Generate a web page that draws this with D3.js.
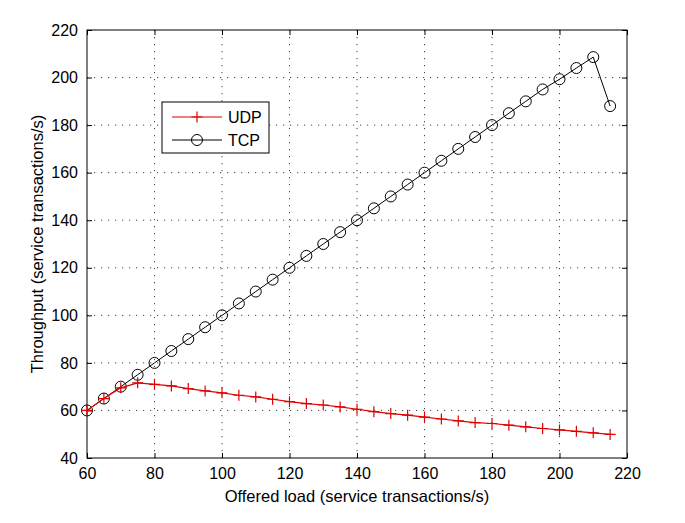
<!DOCTYPE html>
<html>
<head>
<meta charset="utf-8">
<script src="https://cdn.jsdelivr.net/npm/d3@7"></script>
<style>
  body { margin: 0; background: #fff; }
  svg { display: block; font-family: "Liberation Sans", Arial, sans-serif; }
  .grid line { stroke: #444; stroke-width: 1; stroke-dasharray: 1.2 5.8; }
</style>
</head>
<body>
<div id="chart"></div>
<script>
const load = [60, 65, 70, 75, 80, 85, 90, 95, 100, 105, 110, 115, 120, 125, 130, 135, 140, 145, 150, 155, 160, 165, 170, 175, 180, 185, 190, 195, 200, 205, 210, 215];
const udp = [60, 65, 69.5, 71.6, 71.0, 70.3, 69.2, 68.2, 67.4, 66.4, 65.7, 64.7, 63.7, 62.9, 62.3, 61.5, 60.5, 59.5, 58.7, 58.0, 57.2, 56.4, 55.6, 54.9, 54.5, 53.8, 53.1, 52.4, 51.8, 51.2, 50.6, 49.9];
const tcp = [60, 65, 70, 75, 80, 85, 90, 95, 100, 105, 110, 115, 120, 125, 130, 135, 140, 145, 150, 155, 160, 165, 170, 175, 180, 185, 190, 195, 199.3, 204, 208.6, 188];
const xTicks = [60, 80, 100, 120, 140, 160, 180, 200, 220];
const yTicks = [40, 60, 80, 100, 120, 140, 160, 180, 200, 220];

const width = 685, height = 523;
const margin = {top: 30, right: 58, bottom: 65, left: 87};
const innerW = width - margin.left - margin.right;
const innerH = height - margin.top - margin.bottom;
const tickSize = 5;

const svg = d3.select("#chart").append("svg")
    .attr("width", width)
    .attr("height", height);

const x = d3.scaleLinear().domain([60, 220]).range([0, innerW]);
const y = d3.scaleLinear().domain([40, 220]).range([innerH, 0]);

const g = svg.append("g")
    .attr("transform", `translate(${margin.left},${margin.top})`);

// grid
const grid = g.append("g").attr("class", "grid");
grid.selectAll(".gx")
    .data(xTicks.slice(1, -1))
    .join("line")
    .attr("x1", d => x(d)).attr("x2", d => x(d))
    .attr("y1", 0).attr("y2", innerH);
grid.selectAll(".gy")
    .data(yTicks.slice(1, -1))
    .join("line")
    .attr("y1", d => y(d)).attr("y2", d => y(d))
    .attr("x1", 0).attr("x2", innerW);

// axes, ticks inward on all sides
function styleAxis(sel) {
    sel.select(".domain").remove();
    sel.selectAll(".tick line").attr("stroke", "#000");
    sel.selectAll(".tick text")
        .attr("fill", "#000")
        .style("font-size", "16px");
}

g.append("g")
    .attr("transform", `translate(0,${innerH})`)
    .call(d3.axisBottom(x).tickValues(xTicks).tickSize(-tickSize).tickPadding(10))
    .call(styleAxis);
g.append("g")
    .call(d3.axisTop(x).tickValues(xTicks).tickSize(-tickSize).tickFormat(""))
    .call(styleAxis);
g.append("g")
    .call(d3.axisLeft(y).tickValues(yTicks).tickSize(-tickSize).tickPadding(9))
    .call(styleAxis);
g.append("g")
    .attr("transform", `translate(${innerW},0)`)
    .call(d3.axisRight(y).tickValues(yTicks).tickSize(-tickSize).tickFormat(""))
    .call(styleAxis);

g.append("rect")
    .attr("width", innerW).attr("height", innerH)
    .attr("fill", "none").attr("stroke", "#000").attr("stroke-width", 1);

// series
const line = d3.line().x(d => x(d[0])).y(d => y(d[1]));
const udpPts = load.map((l, i) => [l, udp[i]]);
const tcpPts = load.map((l, i) => [l, tcp[i]]);

g.append("path").datum(tcpPts)
    .attr("d", line).attr("fill", "none").attr("stroke", "#000").attr("stroke-width", 1);
g.selectAll(".tcp-m")
    .data(tcpPts)
    .join("circle")
    .attr("cx", d => x(d[0])).attr("cy", d => y(d[1]))
    .attr("r", 5.5)
    .attr("fill", "none").attr("stroke", "#000").attr("stroke-width", 1);

g.append("path").datum(udpPts)
    .attr("d", line).attr("fill", "none").attr("stroke", "#e00000").attr("stroke-width", 1.2);
g.selectAll(".udp-m")
    .data(udpPts)
    .join("path")
    .attr("d", d => `M${x(d[0]) - 5.5},${y(d[1])}h11M${x(d[0])},${y(d[1]) - 5.5}v11`)
    .attr("stroke", "#e00000").attr("stroke-width", 1.2);

// legend
const legend = svg.append("g").attr("transform", "translate(162,102)");
legend.append("rect")
    .attr("width", 107).attr("height", 51)
    .attr("fill", "#fff").attr("stroke", "#000");
const entries = [
    {name: "UDP", color: "#e00000", marker: "plus"},
    {name: "TCP", color: "#000", marker: "circle"}
];
entries.forEach((e, i) => {
    const ly = 15 + i * 23;
    legend.append("line")
        .attr("x1", 10).attr("x2", 60).attr("y1", ly).attr("y2", ly)
        .attr("stroke", e.color).attr("stroke-width", 1.2);
    if (e.marker === "plus") {
        legend.append("path")
            .attr("d", `M29.5,${ly}h11M35,${ly - 5.5}v11`)
            .attr("stroke", e.color).attr("stroke-width", 1.2);
    } else {
        legend.append("circle")
            .attr("cx", 35).attr("cy", ly).attr("r", 5.5)
            .attr("fill", "none").attr("stroke", e.color);
    }
    legend.append("text")
        .attr("x", 66).attr("y", ly)
        .attr("dy", "0.36em")
        .style("font-size", "16px")
        .text(e.name);
});

// axis titles
svg.append("text")
    .attr("x", margin.left + innerW / 2)
    .attr("y", 502)
    .attr("text-anchor", "middle")
    .style("font-size", "16.5px")
    .text("Offered load (service transactions/s)");
svg.append("text")
    .attr("transform", `translate(43,${margin.top + innerH / 2}) rotate(-90)`)
    .attr("text-anchor", "middle")
    .style("font-size", "16.5px")
    .text("Throughput (service transactions/s)");
</script>
</body>
</html>
